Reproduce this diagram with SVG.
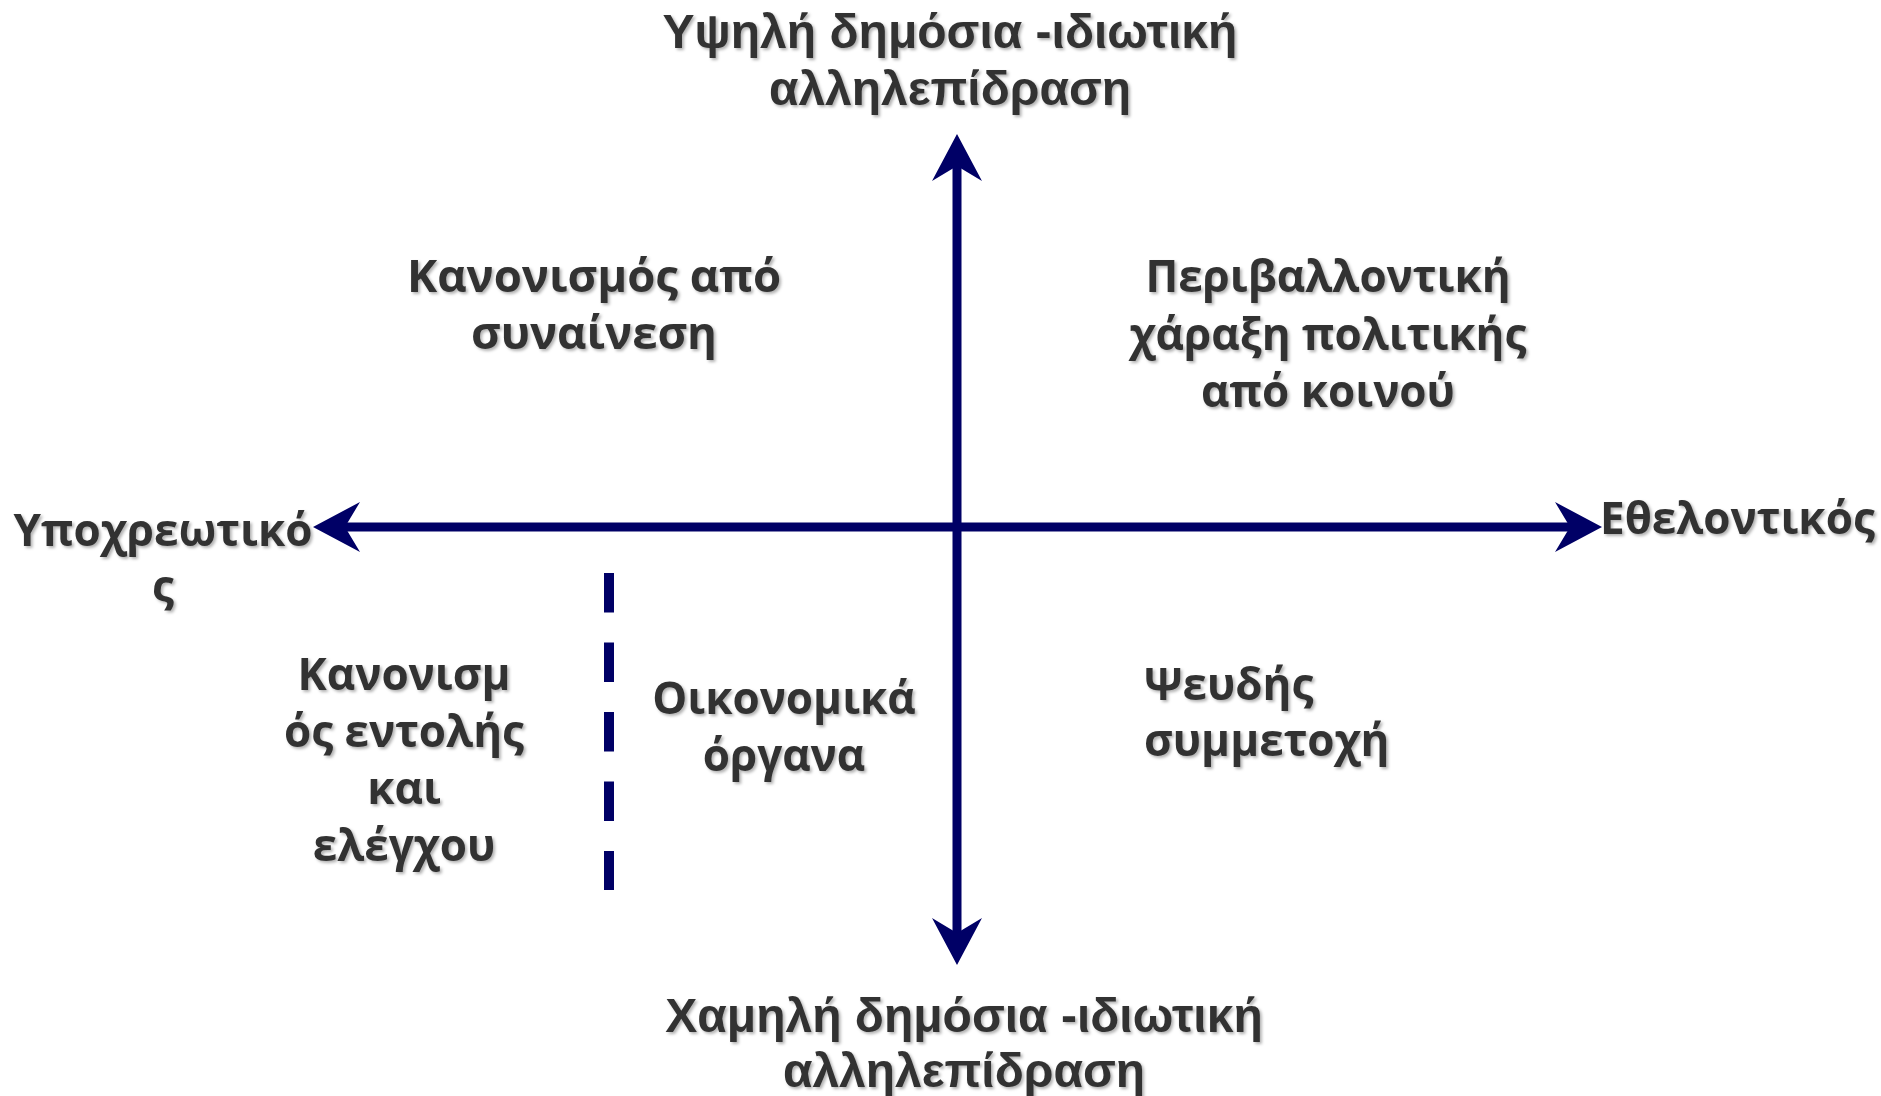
<svg xmlns="http://www.w3.org/2000/svg" width="1881" height="1096" viewBox="0 0 1881 1096">
<defs>
<filter id="sh" x="-10%" y="-20%" width="120%" height="150%">
<feDropShadow dx="2" dy="2" stdDeviation="1.5" flood-color="#000" flood-opacity="0.3"/>
</filter>
<path id="head" d="M0,0 L-47,-25 L-32,0 L-47,25 Z" fill="#000066"/>
</defs>
<style>
.ax{stroke:#000066;stroke-width:9;fill:none}
.dash{stroke:#000066;stroke-width:10;fill:none;stroke-dasharray:39.5 30}
.t{font-family:"Open Sans","Liberation Sans",sans-serif;font-weight:bold;font-size:44px;fill:#333333;filter:url(#sh)}
.ta{font-family:"Liberation Sans",Arial,sans-serif;font-weight:bold;font-size:48px;fill:#333333;filter:url(#sh)}
.c{text-anchor:middle}
</style>
<rect width="1881" height="1096" fill="#ffffff"/>
<g id="connectors">
<line class="ax" x1="957" y1="160" x2="957" y2="940"/>
<line class="ax" x1="340" y1="527" x2="1576" y2="527"/>
<use href="#head" transform="translate(957,134) rotate(-90)"/>
<use href="#head" transform="translate(957,965) rotate(90)"/>
<use href="#head" transform="translate(313,527) rotate(180)"/>
<use href="#head" transform="translate(1602,527)"/>
<line class="dash" x1="609" y1="573" x2="609" y2="890"/>
</g>
<g id="top-label"><text class="ta c"><tspan x="950" y="48">Υψηλή δημόσια -ιδιωτική</tspan><tspan x="950" y="105">αλληλεπίδραση</tspan></text></g>
<g id="bottom-label"><text class="ta c"><tspan x="964" y="1032">Χαμηλή δημόσια -ιδιωτική</tspan><tspan x="964" y="1087">αλληλεπίδραση</tspan></text></g>
<g id="left-label"><text class="t c"><tspan x="163" y="546">Υποχρεωτικό</tspan><tspan x="163" y="602">ς</tspan></text></g>
<g id="right-label"><text class="t"><tspan x="1600" y="534">Εθελοντικός</tspan></text></g>
<g id="q-consensus"><text class="t c" style="font-size:45.5px"><tspan x="594" y="292">Κανονισμός από</tspan><tspan x="594" y="349">συναίνεση</tspan></text></g>
<g id="q-environmental"><text class="t c"><tspan x="1328" y="292">Περιβαλλοντική</tspan><tspan x="1328" y="350">χάραξη πολιτικής</tspan><tspan x="1328" y="407">από κοινού</tspan></text></g>
<g id="q-command"><text class="t c"><tspan x="404" y="690">Κανονισμ</tspan><tspan x="404" y="747">ός εντολής</tspan><tspan x="404" y="804">και</tspan><tspan x="404" y="861">ελέγχου</tspan></text></g>
<g id="q-economic"><text class="t c"><tspan x="784" y="714">Οικονομικά</tspan><tspan x="784" y="771">όργανα</tspan></text></g>
<g id="q-pseudo"><text class="t"><tspan x="1144" y="700">Ψευδής</tspan><tspan x="1144" y="756">συμμετοχή</tspan></text></g>
</svg>
